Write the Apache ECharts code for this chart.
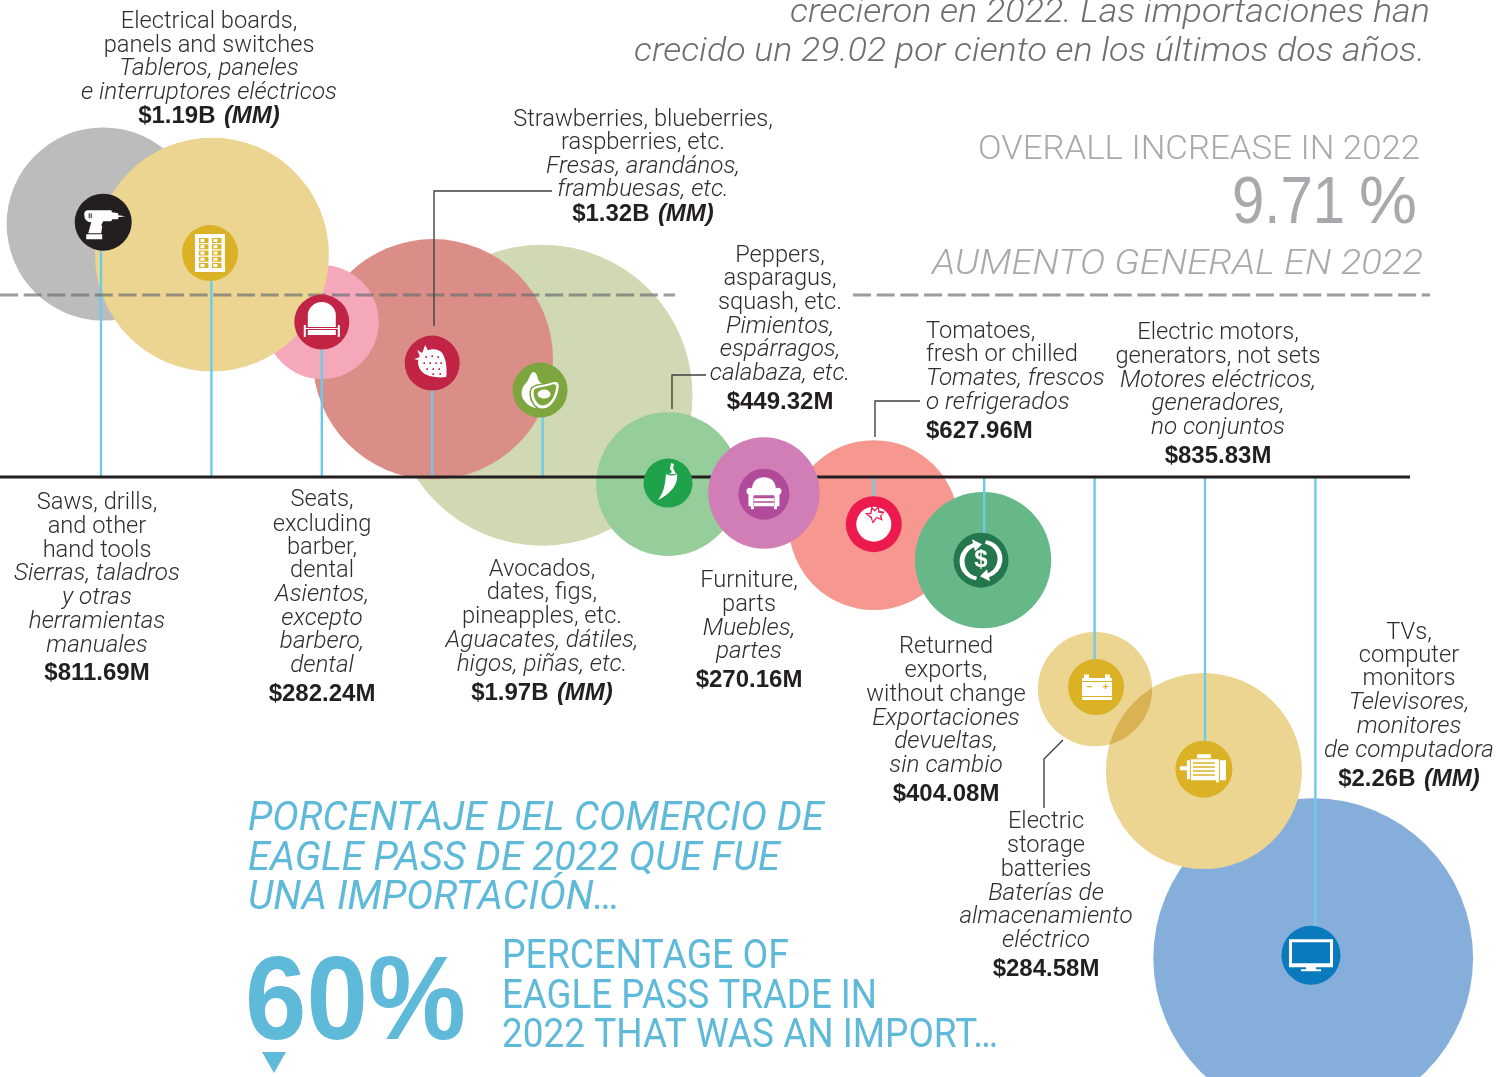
<!DOCTYPE html>
<html>
<head>
<meta charset="utf-8">
<title>Eagle Pass imports 2022</title>
<script src="https://cdn.jsdelivr.net/npm/echarts@6/dist/echarts.min.js"></script>
<style>
html,body{margin:0;padding:0;background:#fff}
#main{width:1511px;height:1077px}
</style>
</head>
<body>
<div id="main"></div>
<script>
// order along the axis, left to right
var categories = ['Saws, drills', 'Electrical boards', 'Seats', 'Strawberries', 'Avocados', 'Peppers',
    'Furniture', 'Tomatoes', 'Returned exports', 'Batteries', 'Electric motors', 'TVs'];
// 2022 import value, millions of dollars
var importValues = [811.69, 1190, 282.24, 1320, 1970, 449.32, 270.16, 627.96, 404.08, 284.58, 835.83, 2260];
// 2022 change in percent
var bubbleGrowth = [13.5, 11.87, 8.27, 6.29, 4.37, -0.37, -0.85, -2.56, -4.43, -11.31, -15.68, -25.66];
var iconGrowth = [13.6, 11.95, 8.27, 6.08, 4.64, -0.32, -0.91, -2.51, -4.43, -11.2, -15.58, -25.5];
var overallIncrease = 9.71;

// place on the x axis (the designer nudged a few of them)
var bubbleSlot = [0.02, 1.005, 2, 3.007, 3.995, 5.136, 6.005, 7, 7.99, 9.004, 9.99, 10.98];
var iconSlot = [0.02, 0.987, 2, 3, 3.977, 5.136, 6.005, 7, 7.971, 9.013, 9.99, 10.96];
var stemSlot = [0, 1, 2, 3, 4, null, null, 7, 8, 9, 10, 11];

var bubbleColors = ['#bcbcbc', '#ebd591', '#f5a8ba', '#da8e87', '#d0d9b3', '#95cd9b', '#d07eb5', '#f69790', '#67b888', '#ebd591', '#ebd591', '#86aedb'];
var iconColors = ['#231f20', '#dbb225', '#c12444', '#c12444', '#7da63f', '#1fa24a', '#b24a9b', '#ed1a4f', '#24774c', '#dbb225', '#dbb225', '#0a7abf'];
var iconRadius = [28.5, 28, 27.5, 27.5, 27.5, 24.5, 25.5, 28, 27.5, 28, 28.5, 29.5];
// strawberries and TVs were printed a touch smaller than their area says
var sizeNudge = [1, 1, 1, 0.975, 1, 1, 1, 1, 1, 1, 1, 0.992];

var PX_PER_SLOT = 110.4;
var xMin = -101 / PX_PER_SLOT, xMax = (1511 - 101) / PX_PER_SLOT;
var ruleEnd = (1410 - 101) / PX_PER_SLOT;
var dashBreak1 = (675 - 101) / PX_PER_SLOT, dashBreak2 = (853 - 101) / PX_PER_SLOT, dashEnd = (1430 - 101) / PX_PER_SLOT;

function bubbleSize(v, i) { return 2 * 3.39 * Math.sqrt(v) * sizeNudge[i]; }

function ell(cx, cy, rx, ry) {
    return 'M' + (cx - rx) + ' ' + cy + 'A' + rx + ' ' + ry + ' 0 1 1 ' + (cx + rx) + ' ' + cy + 'A' + rx + ' ' + ry + ' 0 1 1 ' + (cx - rx) + ' ' + cy + 'Z';
}
function box(x, y, w, h) {
    return 'M' + x + ' ' + y + 'h' + w + 'v' + h + 'h' + (-w) + 'Z';
}

// the pictograms, drawn around 0,0. w = white, c = colour of the disc
var boardCells = '', boardDots = '';
for (var r = 0; r < 5; r++) {
    boardCells += box(-11, -15 + r * 6.2, 9.5, 5) + box(2, -15 + r * 6.2, 9.5, 5);
    boardDots += box(-9.5, -14 + r * 6.2, 4, 3) + box(3.5, -14 + r * 6.2, 4, 3);
}
var berryDots = '';
[[-6, -6], [0, -7], [6, -6], [-8, 0], [-2, 0], [4, 0], [9, 0], [-5, 6], [1, 6], [7, 6], [1, 11], [8, 11]].forEach(function (d) {
    berryDots += box(d[0] - 0.8, d[1] - 0.8, 1.6, 1.6);
});
var iconShapes = [
    [['w', 'M-19 -8Q-19 -12 -15 -12L8 -12L9 -10L15 -9V-7L22 -6L15 -5V-3L9 -3L8 -1L0 -1L-2 3L-1 4L-2 11L-15 11L-12 0Q-19 0 -19 -8Z' + box(-17, 12, 16, 5)],
     ['c', box(-14.5, -9, 1, 5) + box(-12.5, -9, 1, 5)]],
    [['w', box(-15, -19, 30, 38)], ['c', boardCells], ['w', boardDots]],
    [['w', 'M-14 5V-7A14 13 0 0 1 14 -7V5Z' + box(-14, 8, 28, 5) + box(-18, 3, 2, 12) + box(16, 3, 2, 12) + box(-17, 6, 34, 1)]],
    [['w', 'M-12 -8C-6 -15 6 -16 10 -10C14 -4 15 6 14 14C6 15 -6 14 -11 8C-15 3 -15 -3 -12 -8Z'],
     ['w', 'M-18 -4L-12 -6L-15 -13L-10 -10L-7 -18L-4 -12L-8 -8L-14 -3Z'], ['c', berryDots]],
    [['w', 'M-7 -18C-4 -18 -3 -15 -2 -11C-1 -7 2 -7 4 -6L4 17C-4 20 -12 17 -17 9C-20 3 -18 -3 -14 -7C-11 -10 -10 -17 -7 -18Z'],
     ['c', 'M-10 -1C-7 -7 4 -6 12 -9C17 -11 21 -9 20 -3C19 6 14 19 2 20C-6 20 -13 8 -10 -1Z'],
     ['w', 'M-8.5 -0.5C-6 -5.5 4 -4.5 12 -7.5C16 -9 19.5 -8 18.5 -3C18 5 13 18.5 2 18.5C-5 18.5 -11 7 -8.5 -0.5Z'],
     ['c', 'M-6 0C-4 -3 4 -2.5 12 -5.5C15 -6.5 17 -5 16 -2C15 5 11 15.5 2 15.5C-3 15.5 -8 6 -6 0Z'],
     ['w', ell(4, 4, 6.5, 4.5)]],
    [['w', 'M-2 -9C2 -7 6 -7 9 -9C10 -1 6 9 -10 17C-4 9 -3 2 -2 -9Z'], ['w', 'M0 -8L4 -11L2 -14L3 -20L6 -19L5 -15L8 -9Z'],
     ['c', box(0, -9, 7, 0.8)]],
    [['w', 'M-12 -4C-12 -14 -6 -17 0 -17C6 -17 12 -14 12 -4V2H-12Z' + ell(-14, -3, 3.5, 3.5) + ell(14, -3, 3.5, 3.5) + box(-15.5, -3, 5, 15) + box(10.5, -3, 5, 15) + box(-10, 4, 20, 8) + box(-13, 12, 3, 3) + box(10, 12, 3, 3)],
     ['c', box(-10, 1, 20, 1.5) + box(-10, 7, 20, 1.5)]],
    [['w', ell(0, 0, 17.5, 17.5)], ['c', 'M-9 -11L-3.5 -11.5L-2.5 -18L1 -14.5L5 -19L5.5 -13.5L11 -12.5L7.5 -8.5L9 -3.5L3 -6L-1 -0.5L-3 -6Z'],
     ['w', 'M-6.5 -10L-2.5 -10L-1.5 -15L1 -12.5L4 -16L4.5 -11.5L9 -11L6 -8.5L7 -5.5L3 -7.5L-1 -3L-2 -7.5Z']],
    [['w', 'M-5 20A19 19 0 0 1 -8 -17L-9 -21L1 -16L-6 -9L-7 -13A15.5 15.5 0 0 0 -4 16.5Z'],
     ['w', 'M5 -20A19 19 0 0 1 8 17L9 21L-1 16L6 9L7 13A15.5 15.5 0 0 0 4 -16.5Z']],
    [['w', box(-14, -9, 30, 22) + box(-12, -12.5, 5, 4) + box(9, -12.5, 5, 4)],
     ['c', box(-14, -6, 30, 1) + box(-14, 9, 30, 1) + box(-9, -1, 5, 1.2) + box(7, -1, 5, 1.2) + box(8.9, -3, 1.2, 5)]],
    [['w', box(-7, -15, 14, 4) + box(-24, -3, 7, 4) + box(-17, -9, 3, 19) + box(-13, -10, 27, 21) + box(12, -10, 3, 23) + box(16, -9, 6, 20)],
     ['c', box(-11, -7, 22, 1.5) + box(-11, -3, 22, 1.5) + box(-11, 1, 22, 1.5) + box(-11, 5, 22, 1.5)]],
    [['w', box(-22, -16, 44, 28) + box(-5, 12, 10, 2) + box(-10, 14, 20, 2)], ['c', box(-19, -13, 38, 21)]]
];

// every label line: text, y centre, and n / i (italic) / b (value)
var labelBlocks = [
    { x: 209, lines: [['Electrical boards,', 20], ['panels and switches', 44], ['Tableros, paneles', 67, 'i'], ['e interruptores eléctricos', 91, 'i'], ['$1.19B', 114, 'b', '(MM)']] },
    { x: 643, lines: [['Strawberries, blueberries,', 118], ['raspberries, etc.', 141], ['Fresas, arandános,', 165, 'i'], ['frambuesas, etc.', 188, 'i'], ['$1.32B', 212, 'b', '(MM)']] },
    { x: 780, lines: [['Peppers,', 254], ['asparagus,', 277], ['squash, etc.', 301], ['Pimientos,', 325, 'i'], ['espárragos,', 348, 'i'], ['calabaza, etc.', 372, 'i'], ['$449.32M', 400, 'b']] },
    { x: 926, align: 'left', lines: [['Tomatoes,', 330], ['fresh or chilled', 353], ['Tomates, frescos', 377, 'i'], ['o refrigerados', 401, 'i'], ['$627.96M', 429, 'b']] },
    { x: 1218, lines: [['Electric motors,', 331], ['generators, not sets', 355], ['Motores eléctricos,', 379, 'i'], ['generadores,', 402, 'i'], ['no conjuntos', 426, 'i'], ['$835.83M', 454, 'b']] },
    { x: 97, lines: [['Saws, drills,', 501], ['and other', 525], ['hand tools', 549], ['Sierras, taladros', 572, 'i'], ['y otras', 596, 'i'], ['herramientas', 620, 'i'], ['manuales', 644, 'i'], ['$811.69M', 671, 'b']] },
    { x: 322, lines: [['Seats,', 498], ['excluding', 523], ['barber,', 546], ['dental', 569], ['Asientos,', 593, 'i'], ['excepto', 617, 'i'], ['barbero,', 640, 'i'], ['dental', 664, 'i'], ['$282.24M', 692, 'b']] },
    { x: 542, lines: [['Avocados,', 568], ['dates, figs,', 591], ['pineapples, etc.', 615], ['Aguacates, dátiles,', 639, 'i'], ['higos, piñas, etc.', 663, 'i'], ['$1.97B', 691, 'b', '(MM)']] },
    { x: 749, lines: [['Furniture,', 579], ['parts', 603], ['Muebles,', 627, 'i'], ['partes', 650, 'i'], ['$270.16M', 678, 'b']] },
    { x: 946, lines: [['Returned', 645], ['exports,', 669], ['without change', 693], ['Exportaciones', 717, 'i'], ['devueltas,', 740, 'i'], ['sin cambio', 764, 'i'], ['$404.08M', 792, 'b']] },
    { x: 1046, lines: [['Electric', 820], ['storage', 844], ['batteries', 868], ['Baterías de', 892, 'i'], ['almacenamiento', 915, 'i'], ['eléctrico', 939, 'i'], ['$284.58M', 967, 'b']] },
    { x: 1409, lines: [['TVs,', 631], ['computer', 654], ['monitors', 677], ['Televisores,', 701, 'i'], ['monitores', 725, 'i'], ['de computadora', 749, 'i'], ['$2.26B', 777, 'b', '(MM)']] }
];

var FONT = 'Roboto, "Liberation Sans", sans-serif';
var BOLD = '"Liberation Sans", Roboto, sans-serif';
var textColor = '#2e2d2f';
var measure = document.createElement('canvas').getContext('2d');

// width: squeeze the line to this many pixels, the original is set very tight
function textEl(x, y, str, o) {
    var font = (o.italic ? 'italic ' : '') + (o.weight || 300) + ' ' + o.size + 'px ' + (o.family || FONT);
    var scale = o.scale || 1;
    if (o.width) {
        measure.font = font;
        scale = o.width / measure.measureText(str).width;
    }
    return {
        type: 'text', x: x, y: y, z: 60, silent: true, scaleX: scale,
        style: {
            text: str, fill: o.color || textColor, fontFamily: o.family || FONT, fontSize: o.size,
            fontWeight: o.weight || 300, fontStyle: o.italic ? 'italic' : 'normal',
            align: o.align || 'center', verticalAlign: 'middle'
        }
    };
}

var graphics = [];
labelBlocks.forEach(function (b) {
    b.lines.forEach(function (l) {
        var align = b.align || 'center';
        if (l[2] == 'b') {
            graphics.push({
                type: 'text', x: b.x, y: l[1] + 2, z: 60, silent: true,
                style: {
                    text: '{v|' + l[0] + '}' + (l[3] ? ' {m|' + l[3] + '}' : ''),
                    align: align, verticalAlign: 'middle',
                    rich: {
                        v: { fontFamily: BOLD, fontSize: 24, fontWeight: 'bold', fill: '#231f20' },
                        m: { fontFamily: BOLD, fontSize: 24, fontWeight: 'bold', fontStyle: 'italic', fill: '#231f20', padding: [0, 0, 0, 5] }
                    }
                }
            });
        } else {
            graphics.push(textEl(b.x, l[1] + 1.5, l[0], { size: 24, italic: l[2] == 'i', align: align, scale: l[2] == 'i' ? 1.012 : 0.985 }));
        }
    });
});

var grey = '#6d6e71', pale = '#a7a9ac', blue = '#5fb9d9';
graphics.push(textEl(1430, 14, 'crecieron en 2022. Las importaciones han', { size: 33, italic: true, color: grey, align: 'right', width: 640 }));
graphics.push(textEl(1425, 53, 'crecido un 29.02 por ciento en los últimos dos años.', { size: 33, italic: true, color: grey, align: 'right', width: 791 }));
graphics.push(textEl(1420, 151, 'OVERALL INCREASE IN 2022', { size: 33, color: pale, align: 'right', width: 442 }));
graphics.push(textEl(1345, 205, '9.71', { size: 66, color: pale, align: 'right', weight: 400, family: BOLD, width: 113 }));
graphics.push(textEl(1417, 205, '%', { size: 66, color: pale, align: 'right', weight: 400, family: BOLD, width: 58 }));
graphics.push(textEl(1423, 265, 'AUMENTO GENERAL EN 2022', { size: 35, italic: true, color: pale, align: 'right', width: 491 }));

graphics.push(textEl(248, 820, 'PORCENTAJE DEL COMERCIO DE', { size: 40, weight: 400, italic: true, color: blue, align: 'left', width: 576 }));
graphics.push(textEl(248, 860, 'EAGLE PASS DE 2022 QUE FUE', { size: 40, weight: 400, italic: true, color: blue, align: 'left', width: 532 }));
graphics.push(textEl(248, 899, 'UNA IMPORTACIÓN…', { size: 40, weight: 400, italic: true, color: blue, align: 'left', width: 372 }));
graphics.push(textEl(502, 958, 'PERCENTAGE OF', { size: 40, weight: 400, color: blue, align: 'left', width: 287 }));
graphics.push(textEl(502, 998, 'EAGLE PASS TRADE IN', { size: 40, weight: 400, color: blue, align: 'left', width: 375 }));
graphics.push(textEl(502, 1037, '2022 THAT WAS AN IMPORT…', { size: 40, weight: 400, color: blue, align: 'left', width: 496 }));
graphics.push(textEl(245, 1006, '60%', { size: 118, color: blue, align: 'left', weight: 700, family: BOLD, width: 221 }));
graphics.push({ type: 'polygon', z: 60, silent: true, shape: { points: [[262, 1052], [286, 1052], [274, 1073]] }, style: { fill: blue } });

// leader lines from the bubbles to their labels
[
    [[552, 191], [434, 191], [434, 326]],
    [[706, 375], [672, 375], [672, 409]],
    [[920, 401], [875, 401], [875, 437]],
    [[1063, 740], [1044, 759], [1044, 808]]
].forEach(function (pts) {
    graphics.push({ type: 'polyline', z: 55, silent: true, shape: { points: pts }, style: { stroke: '#404041', lineWidth: 1.4, fill: null } });
});

function bubbleSeries(idx, z, blend) {
    return {
        type: 'scatter', z: z, silent: true, blendMode: blend || 'source-over',
        symbol: 'circle', symbolSize: function (d) { return d[2]; },
        data: idx.map(function (i) {
            return { value: [bubbleSlot[i], bubbleGrowth[i], bubbleSize(importValues[i], i)], itemStyle: { color: bubbleColors[i], opacity: 1 } };
        })
    };
}

var chart = echarts.init(document.getElementById('main'));
chart.setOption({
    animation: false,
    backgroundColor: '#fff',
    grid: { left: 0, right: 0, top: 0, bottom: 0 },
    xAxis: { type: 'value', min: xMin, max: xMax, show: false },
    yAxis: { type: 'value', min: -32, max: 25.45, show: false },
    graphic: graphics,
    series: [
        // painter order: later ones sit on top, same as the print layout
        bubbleSeries([0], 2),
        bubbleSeries([4], 3),
        bubbleSeries([3], 4),
        bubbleSeries([2], 5),
        bubbleSeries([1], 6),
        bubbleSeries([5], 7),
        bubbleSeries([7], 8),
        bubbleSeries([11], 9),
        bubbleSeries([10], 10),
        bubbleSeries([9], 11, 'multiply'),
        bubbleSeries([8], 12),
        {
            type: 'custom', z: 20, silent: true, clip: false,
            data: stemSlot.map(function (s, i) { return s === null ? null : [s, iconGrowth[i]]; }).filter(Boolean),
            renderItem: function (params, api) {
                var a = api.coord([api.value(0), 0]), b = api.coord([api.value(0), api.value(1)]);
                return { type: 'line', shape: { x1: a[0], y1: a[1], x2: b[0], y2: b[1] }, style: { stroke: '#6ecbe8', lineWidth: 2.4 } };
            }
        },
        {
            type: 'line', z: 21, silent: true, symbol: 'none',
            lineStyle: { color: '#231f20', width: 3 },
            data: [[xMin, 0], [ruleEnd, 0]]
        },
        bubbleSeries([6], 22),
        {
            type: 'line', z: 23, silent: true, symbol: 'none', connectNulls: false,
            lineStyle: { color: 'rgba(110,112,115,0.7)', width: 3, type: [18, 5.7] },
            data: [[xMin, overallIncrease], [dashBreak1, overallIncrease], [dashBreak1, null], [dashBreak2, overallIncrease], [dashEnd, overallIncrease]]
        },
        {
            type: 'custom', z: 30, silent: true, clip: false,
            data: iconGrowth.map(function (g, i) { return [iconSlot[i], g]; }),
            renderItem: function (params, api) {
                var i = params.dataIndex;
                var c = api.coord([api.value(0), api.value(1)]);
                var kids = [{ type: 'circle', shape: { cx: 0, cy: 0, r: iconRadius[i] }, style: { fill: iconColors[i] } }];
                iconShapes[i].forEach(function (p) {
                    kids.push({ type: 'path', shape: { pathData: p[1] }, style: { fill: p[0] == 'w' ? '#fff' : iconColors[i] } });
                });
                if (i == 8) kids.push({ type: 'text', style: { text: '$', x: 0, y: 0, fill: '#fff', align: 'center', verticalAlign: 'middle', fontFamily: BOLD, fontWeight: 'bold', fontSize: 24 } });
                return { type: 'group', x: c[0], y: c[1], children: kids };
            }
        }
    ]
});
</script>
</body>
</html>
